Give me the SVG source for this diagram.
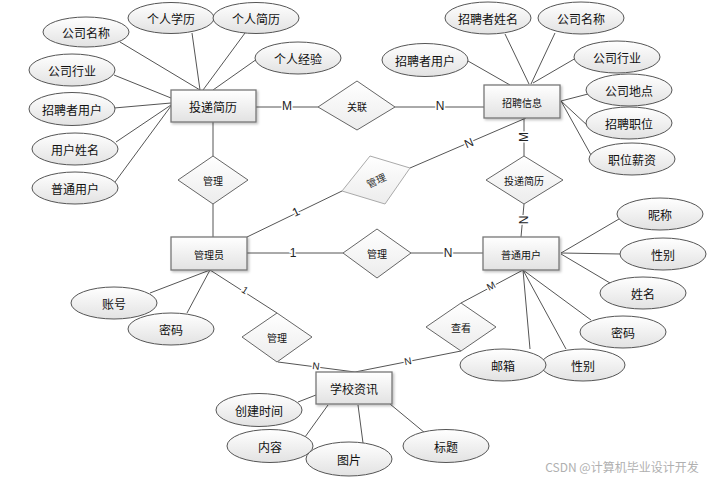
<svg xmlns="http://www.w3.org/2000/svg" width="718" height="480" viewBox="0 0 718 480">
<defs>
<linearGradient id="g" x1="0" y1="0" x2="0" y2="1"><stop offset="0" stop-color="#ffffff"/><stop offset="1" stop-color="#e2e2e2"/></linearGradient>
<linearGradient id="g2" x1="0" y1="0" x2="0" y2="1"><stop offset="0" stop-color="#ffffff"/><stop offset="1" stop-color="#ececec"/></linearGradient>
<filter id="sh" x="-10%" y="-10%" width="130%" height="140%"><feDropShadow dx="1.5" dy="1.5" stdDeviation="0.8" flood-color="#000" flood-opacity="0.25"/></filter>
</defs>
<style>
text{font-family:"Noto Sans CJK SC","Liberation Sans",sans-serif;fill:#111;text-anchor:middle;dominant-baseline:central}
.e{fill:url(#g);stroke:#555;stroke-width:1}
.r{fill:url(#g);stroke:#777;stroke-width:1.3;filter:url(#sh)}
.d{fill:url(#g2);stroke:#666;stroke-width:1}
.t12{font-size:12px}
.t10{font-size:10px}
.c line{stroke:#555;stroke-width:1}
.l{font-family:"Liberation Sans",sans-serif;font-size:12px;fill:#222;stroke:#fff;stroke-width:3;paint-order:stroke}
</style>
<rect width="718" height="480" fill="#fff"/>
<g class="c" id="connectors">
<line x1="120" y1="42" x2="200" y2="90"/>
<line x1="192" y1="33" x2="200" y2="90"/>
<line x1="245" y1="33" x2="203" y2="90"/>
<line x1="257" y1="59" x2="213" y2="90"/>
<line x1="114" y1="75" x2="171" y2="98"/>
<line x1="114" y1="108" x2="171" y2="103"/>
<line x1="116" y1="142" x2="171" y2="105"/>
<line x1="115" y1="182" x2="171" y2="106"/>
<line x1="505" y1="34" x2="529" y2="84"/>
<line x1="555" y1="33" x2="531" y2="84"/>
<line x1="468" y1="61" x2="510" y2="85"/>
<line x1="576" y1="58" x2="533" y2="83"/>
<line x1="588" y1="94" x2="561" y2="101"/>
<line x1="588" y1="126" x2="561" y2="101"/>
<line x1="591" y1="155" x2="561" y2="101"/>
<line x1="619" y1="219" x2="561" y2="253"/>
<line x1="621" y1="254" x2="561" y2="253"/>
<line x1="610" y1="283" x2="561" y2="254"/>
<line x1="591" y1="320" x2="523" y2="270"/>
<line x1="566" y1="349" x2="523" y2="270"/>
<line x1="530" y1="349" x2="523" y2="270"/>
<line x1="150" y1="293" x2="210" y2="270"/>
<line x1="187" y1="313" x2="210" y2="270"/>
<line x1="298" y1="402" x2="316" y2="395"/>
<line x1="305" y1="437" x2="328" y2="405"/>
<line x1="358" y1="405" x2="363" y2="443"/>
<line x1="390" y1="404" x2="425" y2="433"/>
<line x1="256" y1="107" x2="318" y2="107"/>
<line x1="395" y1="107" x2="484" y2="107"/>
<line x1="213" y1="122" x2="213" y2="156"/>
<line x1="213" y1="204" x2="213" y2="237"/>
<line x1="247" y1="237" x2="342" y2="191"/>
<line x1="410" y1="168" x2="526" y2="118"/>
<line x1="524" y1="118" x2="524" y2="156"/>
<line x1="524" y1="204" x2="521" y2="237"/>
<line x1="247" y1="253" x2="343" y2="253"/>
<line x1="411" y1="253" x2="483" y2="253"/>
<line x1="210" y1="270" x2="277" y2="313"/>
<line x1="278" y1="362" x2="355" y2="372"/>
<line x1="461" y1="351" x2="355" y2="372"/>
<line x1="523" y1="270" x2="461" y2="303"/>
<text class="l" x="287" y="106">M</text>
<text class="l" x="440" y="106">N</text>
<text class="l" x="296" y="212" transform="rotate(-26 296 212)">1</text>
<text class="l" x="469" y="143" transform="rotate(-23 469 143)">N</text>
<text class="l" x="524" y="137" transform="rotate(-90 524 137)">M</text>
<text class="l" x="524" y="220" transform="rotate(-90 524 220)">N</text>
<text class="l" x="293" y="253">1</text>
<text class="l" x="448" y="253">N</text>
<text class="l" x="245" y="290" style="font-size:10px" transform="rotate(33 245 290)">1</text>
<text class="l" x="316" y="366" style="font-size:10px" transform="rotate(7 316 366)">N</text>
<text class="l" x="408" y="361" style="font-size:10px" transform="rotate(-11 408 361)">N</text>
<text class="l" x="491" y="286" style="font-size:10px" transform="rotate(-28 491 286)">M</text>
</g>
<g id="attr-gs-gongsimingcheng"><ellipse class="e" cx="86" cy="32" rx="43" ry="15"/><text class="t12" x="86" y="32">公司名称</text></g>
<g id="attr-gerenxueli"><ellipse class="e" cx="171" cy="18" rx="43" ry="15.5"/><text class="t12" x="171" y="18">个人学历</text></g>
<g id="attr-gerenjianli"><ellipse class="e" cx="256" cy="18" rx="43" ry="15.5"/><text class="t12" x="256" y="18">个人简历</text></g>
<g id="attr-gerenjingyan"><ellipse class="e" cx="298" cy="58" rx="43" ry="16"/><text class="t12" x="298" y="58">个人经验</text></g>
<g id="attr-gongsihangye1"><ellipse class="e" cx="72" cy="70" rx="43" ry="16"/><text class="t12" x="72" y="70">公司行业</text></g>
<g id="attr-zhaopinzheyonghu1"><ellipse class="e" cx="72" cy="109" rx="43" ry="16.5"/><text class="t12" x="72" y="109">招聘者用户</text></g>
<g id="attr-yonghuxingming"><ellipse class="e" cx="75" cy="149" rx="43" ry="16"/><text class="t12" x="75" y="149">用户姓名</text></g>
<g id="attr-putongyonghu"><ellipse class="e" cx="75" cy="188" rx="43" ry="16"/><text class="t12" x="75" y="188">普通用户</text></g>
<g id="attr-zhaopinzhexingming"><ellipse class="e" cx="488" cy="18" rx="43" ry="16"/><text class="t12" x="488" y="18">招聘者姓名</text></g>
<g id="attr-gongsimingcheng2"><ellipse class="e" cx="581" cy="18" rx="43" ry="16"/><text class="t12" x="581" y="18">公司名称</text></g>
<g id="attr-zhaopinzheyonghu2"><ellipse class="e" cx="425" cy="60" rx="43" ry="16.5"/><text class="t12" x="425" y="60">招聘者用户</text></g>
<g id="attr-gongsihangye2"><ellipse class="e" cx="617" cy="57" rx="43" ry="16"/><text class="t12" x="617" y="57">公司行业</text></g>
<g id="attr-gongsididian"><ellipse class="e" cx="629" cy="90" rx="43" ry="16"/><text class="t12" x="629" y="90">公司地点</text></g>
<g id="attr-zhaopinzhiwei"><ellipse class="e" cx="629" cy="123" rx="43" ry="16"/><text class="t12" x="629" y="123">招聘职位</text></g>
<g id="attr-zhiweixinzi"><ellipse class="e" cx="632" cy="159" rx="43" ry="16"/><text class="t12" x="632" y="159">职位薪资</text></g>
<g id="attr-nicheng"><ellipse class="e" cx="660" cy="214" rx="43" ry="16"/><text class="t12" x="660" y="214">昵称</text></g>
<g id="attr-xingbie1"><ellipse class="e" cx="663" cy="254" rx="43" ry="16"/><text class="t12" x="663" y="254">性别</text></g>
<g id="attr-xingming"><ellipse class="e" cx="643" cy="293" rx="43" ry="16"/><text class="t12" x="643" y="293">姓名</text></g>
<g id="attr-mima1"><ellipse class="e" cx="623" cy="332" rx="43" ry="16"/><text class="t12" x="623" y="332">密码</text></g>
<g id="attr-xingbie2"><ellipse class="e" cx="583" cy="365" rx="42" ry="16"/><text class="t12" x="583" y="365">性别</text></g>
<g id="attr-youxiang"><ellipse class="e" cx="503" cy="365" rx="43" ry="16"/><text class="t12" x="503" y="365">邮箱</text></g>
<g id="attr-zhanghao"><ellipse class="e" cx="114" cy="303" rx="43" ry="16"/><text class="t12" x="114" y="303">账号</text></g>
<g id="attr-mima2"><ellipse class="e" cx="171" cy="329" rx="43" ry="16"/><text class="t12" x="171" y="329">密码</text></g>
<g id="attr-chuangjianshijian"><ellipse class="e" cx="259" cy="410" rx="43" ry="16.5"/><text class="t12" x="259" y="410">创建时间</text></g>
<g id="attr-neirong"><ellipse class="e" cx="270" cy="446" rx="43" ry="16.5"/><text class="t12" x="270" y="446">内容</text></g>
<g id="attr-tupian"><ellipse class="e" cx="349" cy="459" rx="43" ry="17"/><text class="t12" x="349" y="459">图片</text></g>
<g id="attr-biaoti"><ellipse class="e" cx="446" cy="446" rx="43" ry="16.5"/><text class="t12" x="446" y="446">标题</text></g>
<g id="ent-toudijianli"><rect class="r" x="171" y="90" width="85" height="32"/><text class="t12" x="213" y="106">投递简历</text></g>
<g id="ent-zhaopinxinxi"><rect class="r" x="484" y="85" width="76" height="33"/><text class="t10" x="522" y="102">招聘信息</text></g>
<g id="ent-guanliyuan"><rect class="r" x="171" y="237" width="76" height="33"/><text class="t10" x="209" y="254">管理员</text></g>
<g id="ent-putongyonghu"><rect class="r" x="483" y="237" width="76" height="33"/><text class="t10" x="521" y="254">普通用户</text></g>
<g id="ent-xuexiaozixun"><rect class="r" x="316" y="372" width="76" height="32"/><text class="t12" x="354" y="388">学校资讯</text></g>
<g id="rel-guanlian"><polygon class="d" points="357,81 395,107 357,130 318,107"/><text class="t10" x="357" y="106">关联</text></g>
<g id="rel-guanli1"><polygon class="d" points="213,156 248,180 213,204 178,180"/><text class="t10" x="213" y="180">管理</text></g>
<g id="rel-guanli2"><polygon points="370,156 410,168 385,204 342,191" fill="url(#g2)" stroke="#aaa" stroke-width="1"/><text class="t10" x="376" y="180" transform="rotate(-25 376 180)" style="fill:#333">管理</text></g>
<g id="rel-toudijianli"><polygon class="d" points="524,156 563,180 524,204 486,180"/><text class="t10" x="524" y="180">投递简历</text></g>
<g id="rel-guanli3"><polygon class="d" points="377,229 411,253 377,278 343,253"/><text class="t10" x="377" y="253">管理</text></g>
<g id="rel-guanli4"><polygon class="d" points="277,313 312,337 277,362 242,337"/><text class="t10" x="277" y="337">管理</text></g>
<g id="rel-chakan"><polygon class="d" points="461,303 496,327 461,351 426,327"/><text class="t10" x="461" y="327">查看</text></g>
<text x="622" y="466" style="font-size:12px;fill:#b0b0b0">CSDN @计算机毕业设计开发</text>
</svg>
